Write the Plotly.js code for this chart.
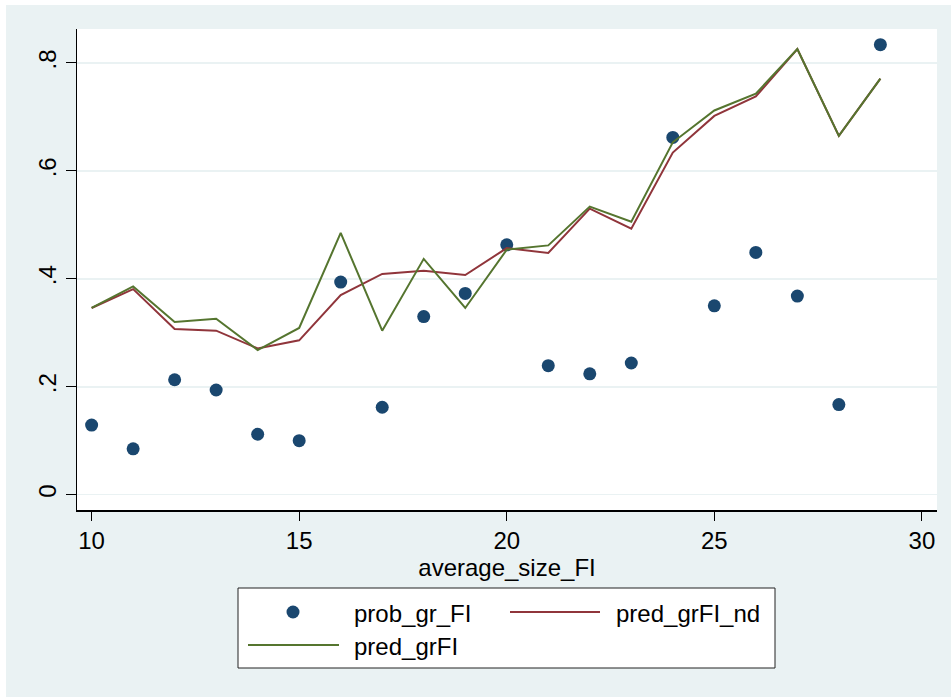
<!DOCTYPE html>
<html>
<head>
<meta charset="utf-8">
<script src="https://cdn.plot.ly/plotly-3.0.1.min.js"></script>
<style>
  html, body { margin: 0; padding: 0; background: #ffffff; width: 951px; height: 697px; overflow: hidden; }
  #chart { position: absolute; left: 6px; top: 5px; width: 945px; height: 692px; }
</style>
</head>
<body>
<div id="chart"></div>
<script>
// ---- data ----
const averageSizeFI = [10, 11, 12, 13, 14, 15, 16, 17, 18, 19, 20, 21, 22, 23, 24, 25, 26, 27, 28, 29];
const probGrFI   = [0.129, 0.085, 0.213, 0.194, 0.112, 0.100, 0.394, 0.162, 0.330, 0.373, 0.463, 0.239, 0.224, 0.244, 0.662, 0.350, 0.449, 0.368, 0.167, 0.834];
const predGrFINd = [0.346, 0.381, 0.307, 0.304, 0.271, 0.286, 0.370, 0.409, 0.415, 0.407, 0.457, 0.448, 0.530, 0.493, 0.634, 0.702, 0.738, 0.826, 0.665, 0.771];
const predGrFI   = [0.346, 0.386, 0.320, 0.326, 0.268, 0.309, 0.485, 0.304, 0.437, 0.346, 0.454, 0.462, 0.534, 0.506, 0.653, 0.712, 0.743, 0.826, 0.665, 0.771];
const xTickVals = [10, 15, 20, 25, 30];
const xTickText = ["10", "15", "20", "25", "30"];
const yTickVals = [0, 0.2, 0.4, 0.6, 0.8];
const yTickText = ["0", ".2", ".4", ".6", ".8"];
const seriesNames = ["prob_gr_FI", "pred_grFI_nd", "pred_grFI"];
const xTitle = "average_size_FI";

// ---- styling ----
const FONT = "Liberation Sans, Arial, Helvetica, sans-serif";
const NAVY = "#1a476f", MAROON = "#90353b", OLIVE = "#55752f";
const BG = "#eaf2f3";
const W = 945, H = 692;
const M = { l: 71, r: 14, t: 24, b: 187 };
const pw = W - M.l - M.r, ph = H - M.t - M.b;
const px = x => (x - M.l) / pw;          // div pixel -> paper x
const py = y => (H - M.b - y) / ph;      // div pixel -> paper y

const traces = [
  { x: averageSizeFI, y: probGrFI, name: seriesNames[0], type: "scatter", mode: "markers",
    marker: { color: NAVY, size: 13 }, cliponaxis: false },
  { x: averageSizeFI, y: predGrFINd, name: seriesNames[1], type: "scatter", mode: "lines",
    line: { color: MAROON, width: 2 } },
  { x: averageSizeFI, y: predGrFI, name: seriesNames[2], type: "scatter", mode: "lines",
    line: { color: OLIVE, width: 2 } }
];

// custom Stata-like legend (box, keys, labels) in paper coordinates
const lgBox = { x0: 232, x1: 769, y0: 583, y1: 663 };
const row1 = 607, row2 = 640;
const shapes = [
  { type: "rect", xref: "paper", yref: "paper", x0: px(lgBox.x0), x1: px(lgBox.x1), y0: py(lgBox.y1), y1: py(lgBox.y0),
    line: { color: "#222222", width: 1 }, fillcolor: "#ffffff" },
  { type: "circle", xref: "paper", yref: "paper", x0: px(287 - 6.5), x1: px(287 + 6.5), y0: py(row1 + 6.5), y1: py(row1 - 6.5),
    line: { width: 0 }, fillcolor: NAVY },
  { type: "line", xref: "paper", yref: "paper", x0: px(504), x1: px(594), y0: py(row1), y1: py(row1),
    line: { color: MAROON, width: 2 } },
  { type: "line", xref: "paper", yref: "paper", x0: px(242), x1: px(333), y0: py(row2), y1: py(row2),
    line: { color: OLIVE, width: 2 } }
];
const annotations = [
  { text: seriesNames[0], x: px(346), y: py(row1 + 1), xanchor: "left", yanchor: "middle" },
  { text: seriesNames[1], x: px(608), y: py(row1 + 1), xanchor: "left", yanchor: "middle" },
  { text: seriesNames[2], x: px(346), y: py(row2 + 1), xanchor: "left", yanchor: "middle" }
].map(a => Object.assign({ xref: "paper", yref: "paper", showarrow: false,
  font: { family: FONT, size: 24, color: "#000000" } }, a));

const layout = {
  width: W, height: H,
  margin: M,
  paper_bgcolor: BG, plot_bgcolor: "#ffffff",
  showlegend: false,
  font: { family: FONT, size: 24, color: "#000000" },
  xaxis: {
    range: [9.648, 30.364], tickvals: xTickVals, ticktext: xTickText,
    showline: true, linecolor: "#000000", linewidth: 1.5, mirror: false,
    ticks: "outside", ticklen: 9, tickwidth: 1, tickcolor: "#000000",
    showgrid: false, zeroline: false,
    tickfont: { family: FONT, size: 24, color: "#000000" },
    title: { text: xTitle, standoff: 0, font: { family: FONT, size: 24, color: "#000000" } }
  },
  yaxis: {
    range: [-0.0284, 0.863], tickvals: yTickVals, ticktext: yTickText, tickangle: -90,
    showline: true, linecolor: "#000000", linewidth: 1.5, mirror: false,
    ticks: "outside", ticklen: 10, tickwidth: 1, tickcolor: "#000000",
    showgrid: true, gridcolor: BG, gridwidth: 1.6, zeroline: false,
    tickfont: { family: FONT, size: 24, color: "#000000" }
  },
  shapes: shapes,
  annotations: annotations
};

Plotly.newPlot("chart", traces, layout, { staticPlot: true, displayModeBar: false });
</script>
</body>
</html>
